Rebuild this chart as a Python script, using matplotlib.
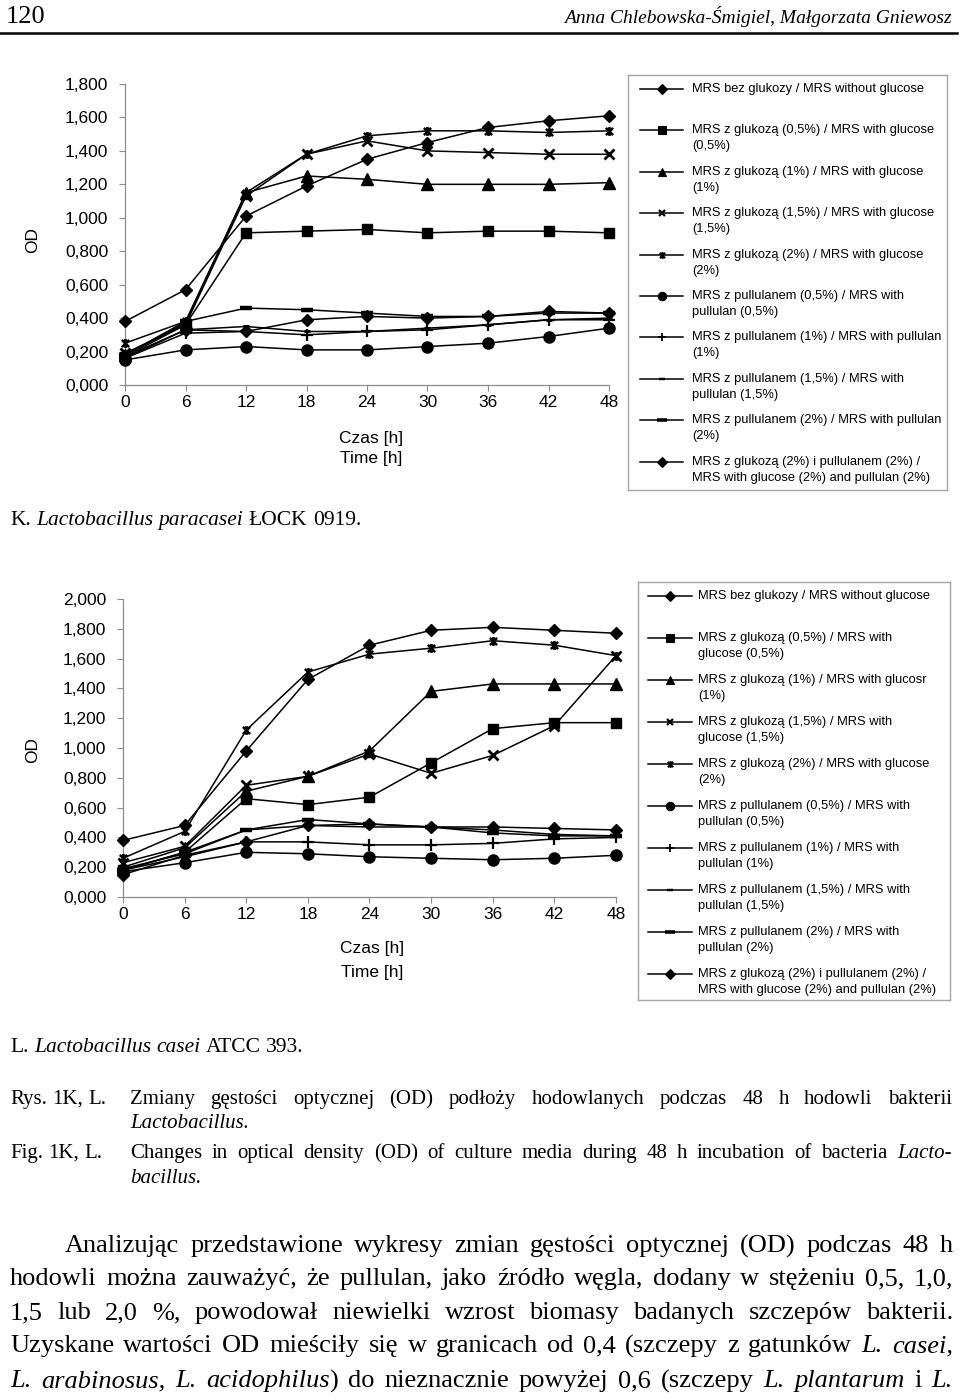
import matplotlib
matplotlib.use("Agg")
import matplotlib.pyplot as plt
from matplotlib.path import Path
from matplotlib.ticker import FuncFormatter, MultipleLocator

W, H = 960, 1398

hours = [0, 6, 12, 18, 24, 30, 36, 42, 48]

# K. Lactobacillus paracasei LOCK 0919
k_bez = [0.16, 0.33, 0.32, 0.39, 0.41, 0.40, 0.41, 0.44, 0.43]
k_glu05 = [0.17, 0.36, 0.91, 0.92, 0.93, 0.91, 0.92, 0.92, 0.91]
k_glu1 = [0.18, 0.37, 1.15, 1.25, 1.23, 1.20, 1.20, 1.20, 1.21]
k_glu15 = [0.19, 0.36, 1.13, 1.38, 1.46, 1.40, 1.39, 1.38, 1.38]
k_glu2 = [0.25, 0.38, 1.15, 1.38, 1.49, 1.52, 1.52, 1.51, 1.52]
k_pul05 = [0.15, 0.21, 0.23, 0.21, 0.21, 0.23, 0.25, 0.29, 0.34]
k_pul1 = [0.16, 0.31, 0.32, 0.30, 0.32, 0.33, 0.36, 0.39, 0.39]
k_pul15 = [0.17, 0.33, 0.35, 0.32, 0.32, 0.34, 0.36, 0.39, 0.40]
k_pul2 = [0.18, 0.38, 0.46, 0.45, 0.43, 0.41, 0.41, 0.43, 0.43]
k_mix = [0.38, 0.57, 1.01, 1.19, 1.35, 1.45, 1.54, 1.58, 1.61]

# L. Lactobacillus casei ATCC 393
l_bez = [0.15, 0.28, 0.37, 0.48, 0.49, 0.47, 0.47, 0.46, 0.45]
l_glu05 = [0.18, 0.30, 0.66, 0.62, 0.67, 0.90, 1.13, 1.17, 1.17]
l_glu1 = [0.20, 0.33, 0.71, 0.81, 0.98, 1.38, 1.43, 1.43, 1.43]
l_glu15 = [0.23, 0.34, 0.75, 0.81, 0.96, 0.83, 0.95, 1.15, 1.62]
l_glu2 = [0.26, 0.44, 1.12, 1.51, 1.63, 1.67, 1.72, 1.69, 1.62]
l_pul05 = [0.17, 0.23, 0.30, 0.29, 0.27, 0.26, 0.25, 0.26, 0.28]
l_pul1 = [0.18, 0.27, 0.37, 0.37, 0.35, 0.35, 0.36, 0.39, 0.40]
l_pul15 = [0.19, 0.29, 0.45, 0.48, 0.47, 0.47, 0.45, 0.42, 0.41]
l_pul2 = [0.18, 0.30, 0.45, 0.52, 0.49, 0.47, 0.43, 0.41, 0.41]
l_mix = [0.38, 0.48, 0.98, 1.46, 1.69, 1.79, 1.81, 1.79, 1.77]

k_labels = [
    ["MRS bez glukozy / MRS without glucose"],
    ["MRS z glukozą (0,5%) / MRS with glucose", "(0,5%)"],
    ["MRS z glukozą (1%) / MRS with glucose", "(1%)"],
    ["MRS z glukozą (1,5%) / MRS with glucose", "(1,5%)"],
    ["MRS z glukozą (2%) / MRS with glucose", "(2%)"],
    ["MRS z pullulanem (0,5%) / MRS with", "pullulan (0,5%)"],
    ["MRS z pullulanem (1%) / MRS with pullulan", "(1%)"],
    ["MRS z pullulanem (1,5%) / MRS with", "pullulan (1,5%)"],
    ["MRS z pullulanem (2%) / MRS with pullulan", "(2%)"],
    ["MRS z glukozą (2%) i pullulanem (2%) /", "MRS with glucose (2%) and pullulan (2%)"],
]
l_labels = [
    ["MRS bez glukozy / MRS without glucose"],
    ["MRS z glukozą (0,5%) / MRS with", "glucose (0,5%)"],
    ["MRS z glukozą (1%) / MRS with glucosr", "(1%)"],
    ["MRS z glukozą (1,5%) / MRS with", "glucose (1,5%)"],
    ["MRS z glukozą (2%) / MRS with glucose", "(2%)"],
    ["MRS z pullulanem (0,5%) / MRS with", "pullulan (0,5%)"],
    ["MRS z pullulanem (1%) / MRS with", "pullulan (1%)"],
    ["MRS z pullulanem (1,5%) / MRS with", "pullulan (1,5%)"],
    ["MRS z pullulanem (2%) / MRS with", "pullulan (2%)"],
    ["MRS z glukozą (2%) i pullulanem (2%) /", "MRS with glucose (2%) and pullulan (2%)"],
]

star = Path([(-1, -1), (1, 1), (-1, 1), (1, -1), (0, -1.25), (0, 1.25)],
            [Path.MOVETO, Path.LINETO, Path.MOVETO, Path.LINETO, Path.MOVETO, Path.LINETO])

# marker, size, edge width
styles = [
    ("D", 6.5, 1.0),
    ("s", 7.5, 1.0),
    ("^", 8, 1.0),
    ("x", 6.5, 2.0),
    (star, 6.5, 1.8),
    ("o", 8, 1.0),
    ("+", 8, 1.6),
    ("_", 5, 2.2),
    ("_", 9, 3.2),
    ("D", 6.5, 1.0),
]

SANS = ["Liberation Sans", "DejaVu Sans"]
SERIF = ["Liberation Serif", "DejaVu Serif"]
GRAY = "#8c8c8c"
TICK_FS = 12.5

fig = plt.figure(figsize=(W / 100, H / 100), dpi=100)


def fx(x):
    return x / W


def fy(y):
    return 1 - y / H


def comma(v, pos):
    return f"{v:.3f}".replace(".", ",")


def draw_chart(rect, series, ymax, labels_xy, od_y):
    left, top, right, bottom = rect
    ax = fig.add_axes([fx(left), fy(bottom), fx(right - left), (bottom - top) / H])
    for vals, (m, ms, mew) in zip(series, styles):
        ax.plot(hours, vals, color="black", lw=1.1, marker=m, ms=ms, mew=mew,
                mfc="black", mec="black", clip_on=False, zorder=3)
    ax.set_xlim(0, 48)
    ax.set_ylim(0, ymax)
    ax.xaxis.set_major_locator(MultipleLocator(6))
    ax.yaxis.set_major_locator(MultipleLocator(0.2))
    ax.yaxis.set_major_formatter(FuncFormatter(comma))
    for s in ["top", "right"]:
        ax.spines[s].set_visible(False)
    for s in ["left", "bottom"]:
        ax.spines[s].set_color(GRAY)
        ax.spines[s].set_linewidth(0.9)
    ax.tick_params(axis="y", direction="out", length=4, width=0.8, color=GRAY,
                   pad=8, labelsize=TICK_FS)
    ax.tick_params(axis="x", direction="out", length=4, width=0.8, color=GRAY,
                   pad=3, labelsize=TICK_FS)
    for t in ax.get_xticklabels() + ax.get_yticklabels():
        t.set_family(SANS)
    (cx, y1, y2) = labels_xy
    fig.text(fx(cx), fy(y1), "Czas [h]", ha="center", va="center", fontsize=TICK_FS, family=SANS)
    fig.text(fx(cx), fy(y2), "Time [h]", ha="center", va="center", fontsize=TICK_FS, family=SANS)
    fig.text(fx(33), fy(od_y), "OD", ha="center", va="center", rotation=90, fontsize=TICK_FS,
             family=SANS)
    return ax


def draw_legend(box, labels, first_y, step, hx0, hx1, tx):
    left, top, right, bottom = box
    lg = fig.add_axes([fx(left), fy(bottom), fx(right - left), (bottom - top) / H])
    lg.set_xlim(left, right)
    lg.set_ylim(bottom, top)
    lg.set_xticks([])
    lg.set_yticks([])
    for s in lg.spines.values():
        s.set_color("#a6a6a6")
        s.set_linewidth(1.0)
    for i, (lines, (m, ms, mew)) in enumerate(zip(labels, styles)):
        y = first_y + i * step
        lg.plot([hx0, (hx0 + hx1) / 2, hx1], [y, y, y], color="black", lw=1.1,
                marker=m, ms=ms * 0.75, mew=mew * 0.8, mfc="black", mec="black",
                markevery=[1])
        for j, line in enumerate(lines):
            lg.text(tx, y + j * 16, line, ha="left", va="center", fontsize=9.3, family=SANS)


k_series = [k_bez, k_glu05, k_glu1, k_glu15, k_glu2, k_pul05, k_pul1, k_pul15, k_pul2, k_mix]
l_series = [l_bez, l_glu05, l_glu1, l_glu15, l_glu2, l_pul05, l_pul1, l_pul15, l_pul2, l_mix]

draw_chart((125, 84, 609, 385), k_series, 1.8, (371, 438, 458), 240)
draw_legend((628, 75, 947, 490), k_labels, 89, 41.4, 640, 683, 692)

draw_chart((123, 599, 616, 897), l_series, 2.0, (372, 949, 972), 750)
draw_legend((638, 582, 950, 1000), l_labels, 596, 42.0, 648, 692, 698)

# page header
fig.text(fx(6), fy(23), "120", ha="left", va="baseline", fontsize=19, family=SERIF)
fig.text(fx(952), fy(23), "Anna Chlebowska-Śmigiel, Małgorzata Gniewosz", ha="right",
         va="baseline", fontsize=14, style="italic", family=SERIF)
fig.add_artist(plt.Line2D([0, fx(957)], [fy(33), fy(33)], color="black", lw=1.8))

fig.canvas.draw()
renderer = fig.canvas.get_renderer()


def seg_text(s, it, y, size):
    t = fig.text(0, fy(y), s, ha="left", va="baseline", fontsize=size,
                 style="italic" if it else "normal", family=SERIF)
    # glyphs descending below "p" (brackets, commas) get drawn too high; push them back
    prop = t.get_fontproperties()
    _, _, d = renderer.get_text_width_height_descent(s, prop, ismath=False)
    _, _, d_lp = renderer.get_text_width_height_descent("lp", prop, ismath=False)
    if d > d_lp:
        t.set_y(fy(y + (d - d_lp)))
    return t


def place(y, x0, x1, words, size, justify=True):
    # y is the baseline; words: list of words, each a list of (text, italic) segments
    made = []
    for w in words:
        segs = [seg_text(s, it, y, size) for s, it in w]
        made.append((segs, [t.get_window_extent(renderer).width for t in segs]))
    total = sum(sum(ws) for _, ws in made)
    if justify:
        gap = (x1 - x0 - total) / max(len(made) - 1, 1)
    else:
        gap = size * 100 / 72 * 0.25
    x = x0
    for segs, ws in made:
        for t, w in zip(segs, ws):
            t.set_x(fx(x))
            x += w
        x += gap


def words(s, italic=False):
    return [[(w, italic)] for w in s.split()]


# strain labels
lab = 15.5
place(525, 10, 0, words("K.") + words("Lactobacillus paracasei", True) + words("ŁOCK 0919."),
      lab, justify=False)
place(1052, 10, 0, words("L.") + words("Lactobacillus casei", True) + words("ATCC 393."),
      lab, justify=False)

# figure caption
cap = 15
place(1104, 10, 0, words("Rys. 1K, L."), cap, justify=False)
place(1104, 130, 952, words("Zmiany gęstości optycznej (OD) podłoży hodowlanych podczas 48 h hodowli bakterii"), cap)
place(1128, 130, 0, words("Lactobacillus.", True), cap, justify=False)
place(1158, 10, 0, words("Fig. 1K, L."), cap, justify=False)
place(1158, 130, 952, words("Changes in optical density (OD) of culture media during 48 h incubation of bacteria")
      + words("Lacto-", True), cap)
place(1183, 130, 0, words("bacillus.", True), cap, justify=False)

# body text
body = 19
place(1252, 65, 953, words("Analizując przedstawione wykresy zmian gęstości optycznej (OD) podczas 48 h"), body)
place(1285, 10, 953, words("hodowli można zauważyć, że pullulan, jako źródło węgla, dodany w stężeniu 0,5, 1,0,"), body)
place(1319, 10, 953, words("1,5 lub 2,0 %, powodował niewielki wzrost biomasy badanych szczepów bakterii."), body)
place(1352, 10, 953, words("Uzyskane wartości OD mieściły się w granicach od 0,4 (szczepy z gatunków")
      + words("L. casei,", True), body)
place(1387, 10, 953, words("L. arabinosus, L.", True) + [[("acidophilus", True), (")", False)]]
      + words("do nieznacznie powyżej 0,6 (szczepy") + words("L. plantarum", True)
      + words("i") + words("L.", True), body)

fig.savefig("out.png", dpi=100)
